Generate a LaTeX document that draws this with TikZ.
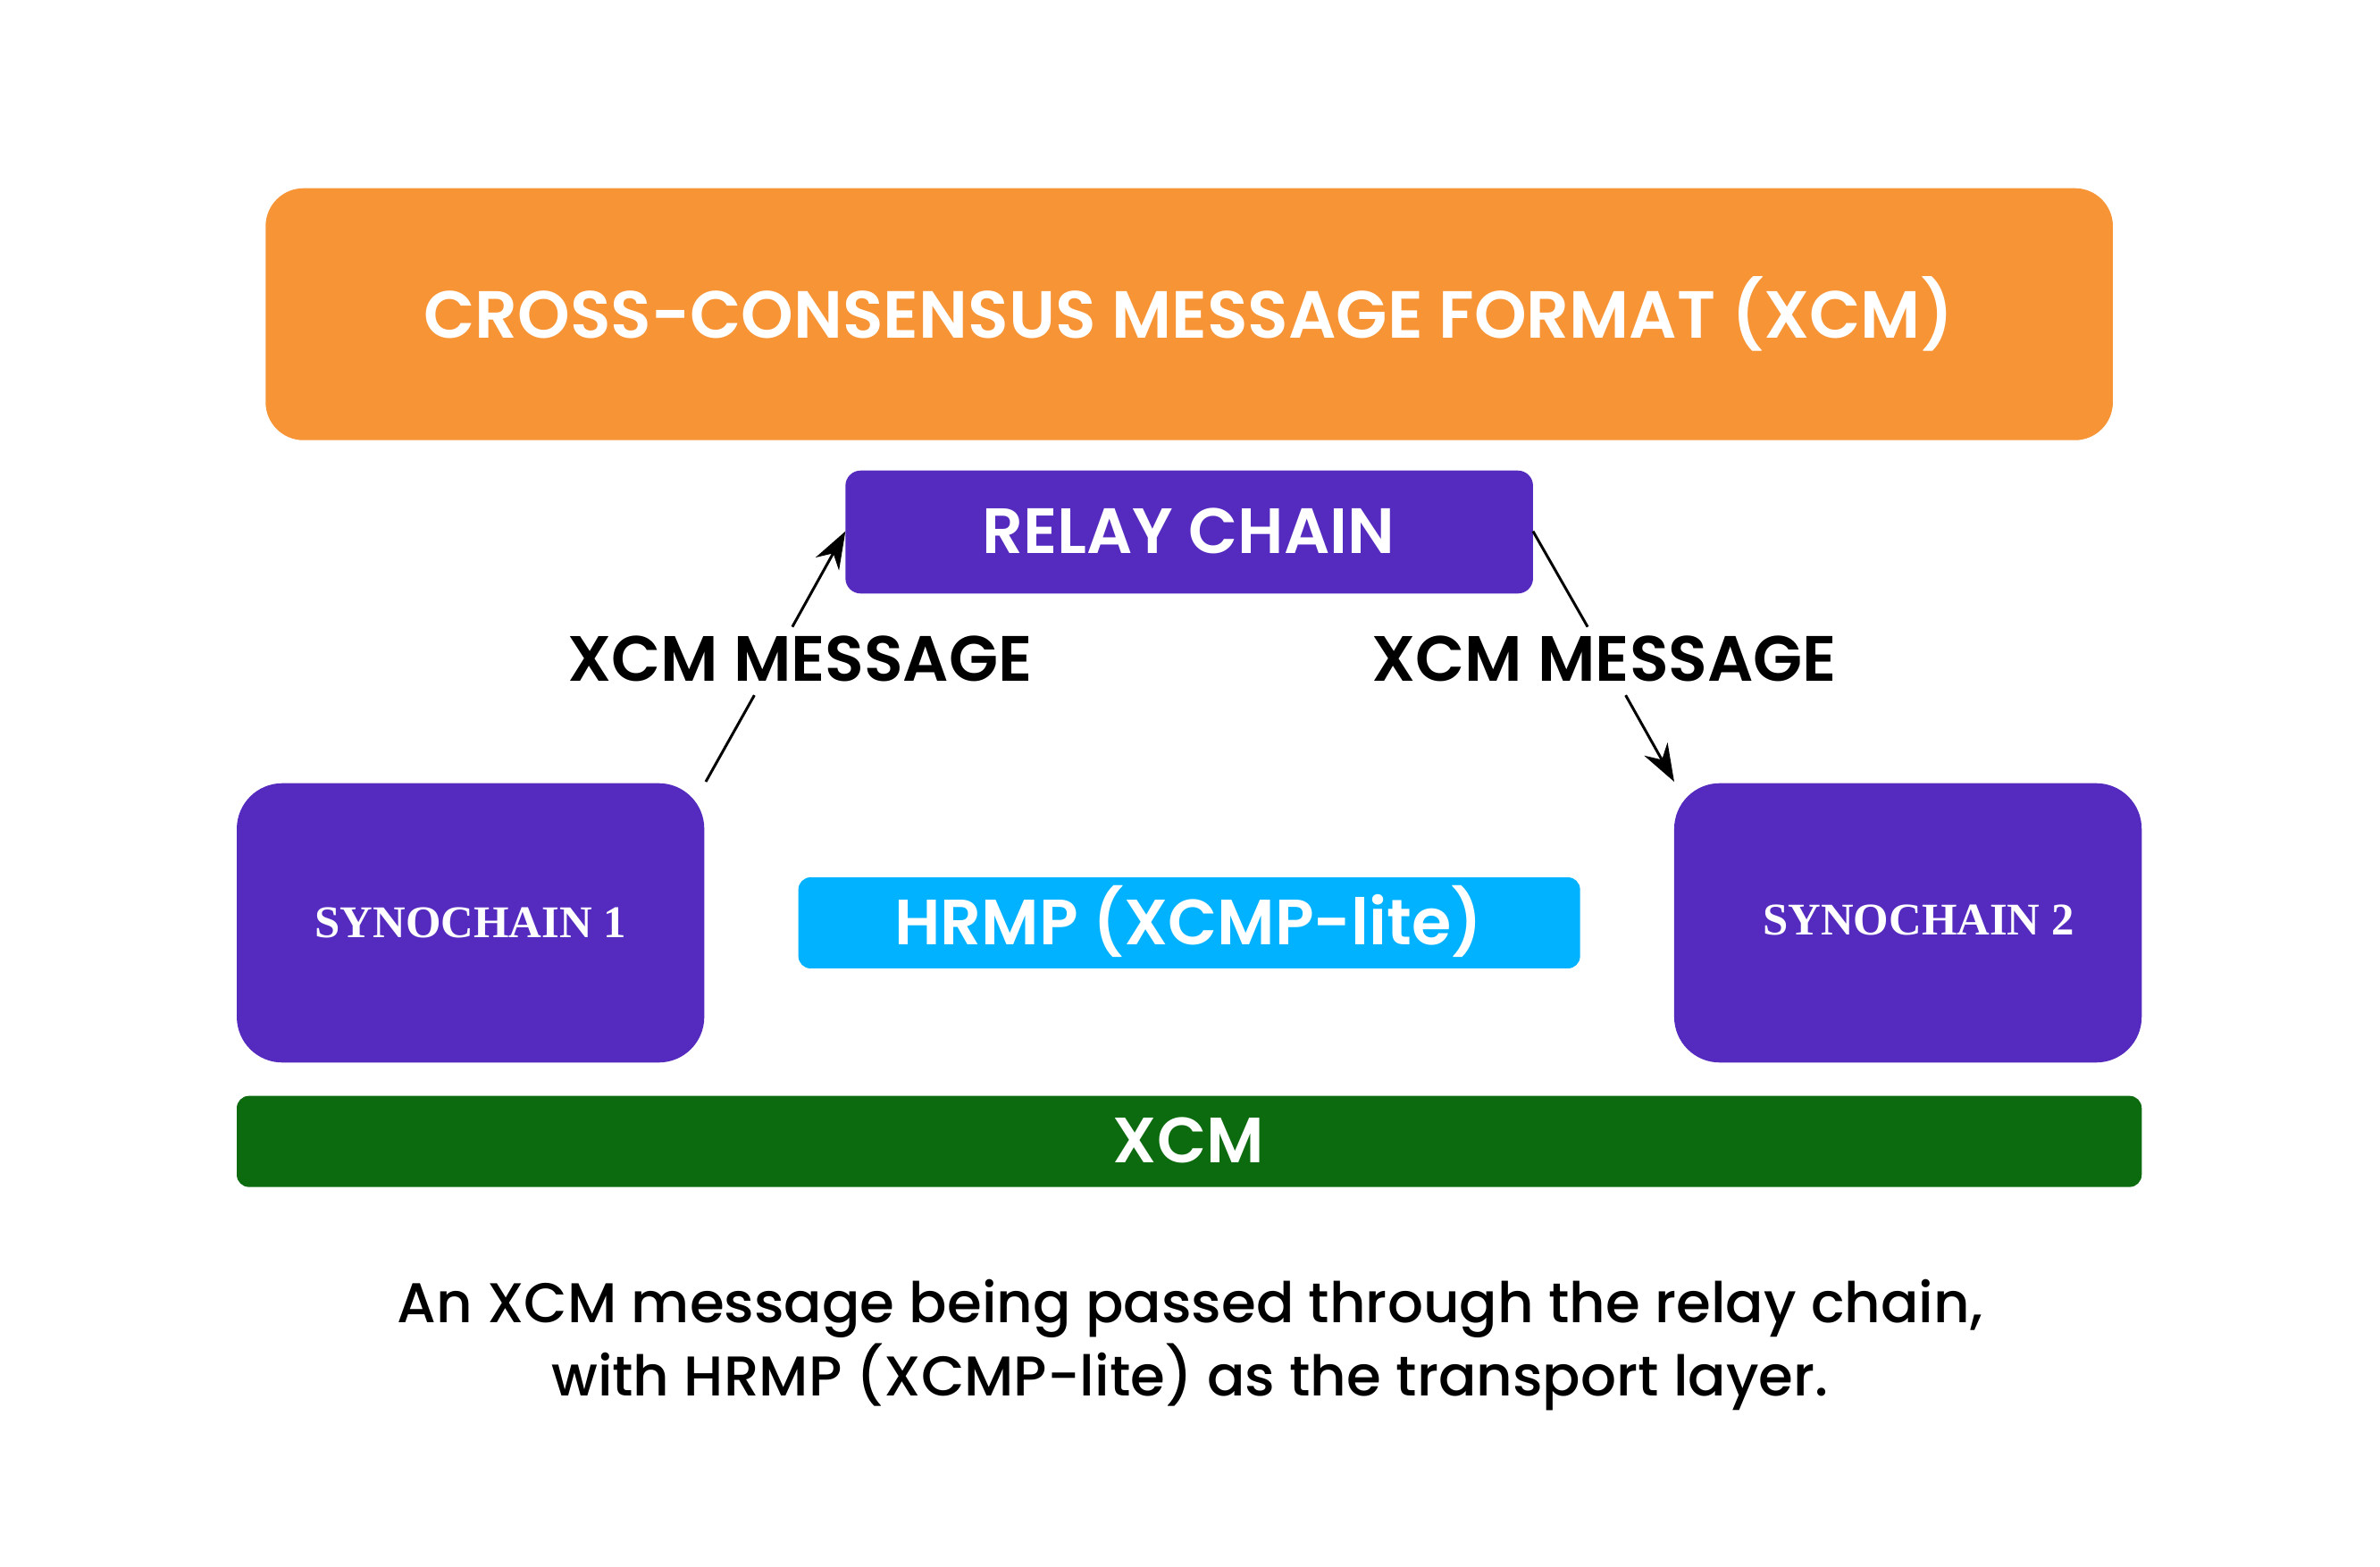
\documentclass[tikz,border=0pt]{standalone}
\usepackage{fontspec}
\setmainfont{Poppins}
\newfontfamily\serifb{Liberation Serif}
\usetikzlibrary{arrows.meta}
\definecolor{orng}{HTML}{F79436}
\definecolor{purp}{HTML}{552BBF}
\definecolor{cyanb}{HTML}{00B2FF}
\definecolor{grn}{HTML}{0D6B0F}
\begin{document}
\begin{tikzpicture}[x=0.01cm,y=-0.01cm,
  box/.style={draw=none,inner sep=0,anchor=north west},
  lbl/.style={font=\fontsize{12}{14}\selectfont\fontspec{Poppins SemiBold}},
  arr/.style={-{Stealth[length=7pt,width=5pt]},line width=0.5pt}]
\useasboundingbox (0,0) rectangle (1568,1032);
\fill[orng,rounded corners=0.25cm] (175,124) rectangle (1392,290);
\node[white,font=\fontsize{12.5}{14}\selectfont\fontspec{Poppins SemiBold}] (xcmf) at (783,207) {CROSS-CONSENSUS MESSAGE FORMAT (XCM)};
\fill[purp,rounded corners=0.1cm] (557,310) rectangle (1010,391);
\node[white,lbl] (relay) at (783,350) {RELAY CHAIN};
\coordinate (rl) at (557,350); \coordinate (rr) at (1010,350);
\fill[purp,rounded corners=0.3cm] (156,516) rectangle (464,700);
\node[white,font=\fontsize{8.5}{10}\selectfont\serifb\bfseries] (s1) at (310,608) {SYNOCHAIN 1};
\fill[purp,rounded corners=0.3cm] (1103,516) rectangle (1411,700);
\node[white,font=\fontsize{8.5}{10}\selectfont\serifb\bfseries] (s2) at (1264,606) {SYNOCHAIN 2};
\coordinate (s1t) at (465,515); \coordinate (s2t) at (1103,515);
\node[black,lbl] (m1) at (527,434) {XCM MESSAGE};
\node[black,lbl] (m2) at (1057,434) {XCM MESSAGE};
\coordinate (m1b) at (497,458); \coordinate (m1t) at (522,413);
\coordinate (m2t) at (1046,413); \coordinate (m2b) at (1071,458);
\draw[line width=0.5pt] (s1t) -- (m1b);
\draw[arr] (m1t) -- (rl);
\draw[line width=0.5pt] (rr) -- (m2t);
\draw[arr] (m2b) -- (s2t);
\fill[cyanb,rounded corners=0.08cm] (526,578) rectangle (1041,638);
\node[white,lbl] (hrmp) at (783,607) {HRMP (XCMP-lite)};
\fill[grn,rounded corners=0.08cm] (156,722) rectangle (1411,782);
\node[white,lbl] (xcm) at (783,751) {XCM};
\node[black,align=center,font=\fontsize{10.5}{12}\selectfont\fontspec{Poppins Medium}] (cap) at (784,886) {An XCM message being passed through the relay chain,\\with HRMP (XCMP-lite) as the transport layer.};
\end{tikzpicture}
\end{document}
